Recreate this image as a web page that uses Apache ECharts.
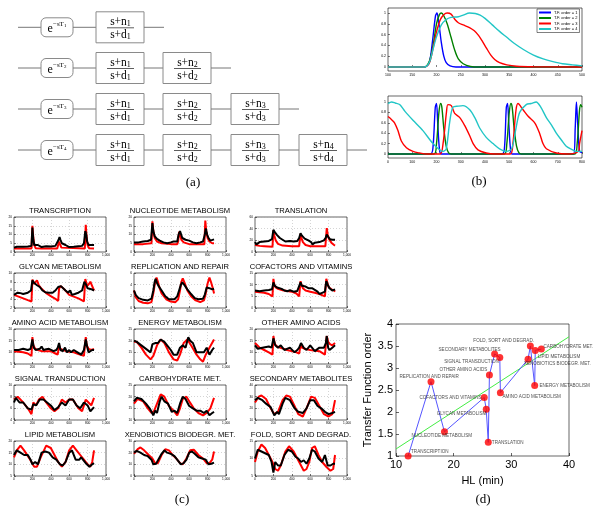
<!DOCTYPE html>
<html><head><meta charset="utf-8">
<script src="https://cdn.jsdelivr.net/npm/echarts@6/dist/echarts.min.js"></script>
<style>html,body{margin:0;padding:0;background:#fff}#c{width:600px;height:512px}</style>
</head><body><div id="c"></div>
<script>
// ---------- Panel (b) data ----------
const tfNames = ['T.F. order = 1','T.F. order = 2','T.F. order = 3','T.F. order = 4'];
const tfColors = ['#0000ff','#008000','#ff0000','#22c6c6'];
const bTop1 = [[100,0],[175,0],[185,0.08],[192,0.5],[198,0.95],[201,1],[205,0.8],[210,0.45],[215,0.2],[220,0.08],[228,0.02],[240,0],[500,0]];
const bTop2 = [[100,0],[175,0],[185,0.1],[193,0.4],[200,0.8],[206,0.97],[210,1],[215,0.95],[222,0.8],[230,0.55],[238,0.3],[245,0.15],[255,0.06],[270,0.01],[290,0],[500,0]];
const bTop3 = [[100,0],[175,0],[185,0.07],[193,0.35],[200,0.65],[208,0.88],[215,0.97],[222,1],[230,0.98],[238,0.88],[245,0.82],[255,0.78],[268,0.73],[278,0.67],[287,0.58],[295,0.47],[303,0.35],[312,0.22],[320,0.14],[330,0.08],[345,0.04],[365,0.015],[400,0.005],[500,0]];
const bTop4 = [[100,0],[175,0],[185,0.08],[192,0.3],[200,0.56],[210,0.78],[220,0.88],[230,0.92],[245,0.93],[255,0.96],[268,1.0],[280,0.99],[290,0.96],[300,0.9],[315,0.78],[330,0.66],[345,0.55],[360,0.44],[380,0.32],[400,0.22],[420,0.15],[440,0.1],[460,0.06],[480,0.04],[500,0.02]];
const bBot1 = [[0,0],[175,0],[185,0.1],[195,0.9],[200,0.97],[205,0.6],[212,0.1],[220,0],[470,0],[480,0.1],[488,0.9],[493,0.97],[498,0.6],[505,0.1],[512,0],[765,0],[772,0.5],[777,1.0],[782,0.6],[790,0.05],[800,0.03]];
const bBot2 = [[0,0],[190,0],[200,0.2],[210,0.8],[217,0.97],[222,0.9],[230,0.5],[240,0.15],[250,0.02],[260,0],[480,0],[490,0.2],[500,0.8],[507,0.97],[512,0.9],[520,0.5],[530,0.15],[540,0.02],[550,0],[770,0],[780,0.2],[790,0.85],[795,0.95],[800,0.9]];
const bBot3 = [[0,0.72],[15,0.66],[27,0.6],[41,0.45],[55,0.25],[76,0.12],[103,0.05],[130,0.02],[160,0],[215,0],[227,0.2],[241,0.8],[247,0.95],[261,0.93],[275,0.78],[296,0.7],[316,0.55],[337,0.35],[351,0.2],[371,0.08],[405,0.02],[440,0],[505,0],[515,0.2],[528,0.85],[536,0.97],[557,0.85],[577,0.73],[605,0.6],[625,0.4],[639,0.2],[653,0.1],[694,0.02],[740,0],[785,0.05],[790,0.2],[800,0.45]];
const bBot4 = [[0,0.97],[15,1.0],[30,0.98],[48,0.95],[70,0.82],[103,0.65],[144,0.45],[186,0.2],[227,0.05],[240,0.1],[254,0.6],[268,0.9],[290,0.92],[309,0.93],[337,0.85],[360,0.68],[378,0.5],[405,0.32],[433,0.2],[460,0.1],[488,0.05],[510,0.1],[528,0.5],[543,0.8],[570,0.95],[590,0.97],[611,1.0],[630,0.9],[653,0.7],[675,0.55],[694,0.4],[715,0.27],[735,0.15],[757,0.09],[777,0.05],[800,0.05]];

// ---------- Panel (c) data ----------
const cTitles = ['TRANSCRIPTION','NUCLEOTIDE METABOLISM','TRANSLATION',
  'GLYCAN METABOLISM','REPLICATION AND REPAIR','COFACTORS AND VITAMINS',
  'AMINO ACID METABOLISM','ENERGY METABOLISM','OTHER AMINO ACIDS',
  'SIGNAL TRANSDUCTION','CARBOHYDRATE MET.','SECONDARY METABOLITES',
  'LIPID METABOLISM','XENOBIOTICS BIODEGR. MET.','FOLD, SORT AND DEGRAD.'];
const cYMin  = [0,0,0, 2,0,0, 5,10,5, 4,10,10, 5,0,5];
const cYMax  = [20,20,60, 10,6,15, 20,25,20, 10,25,40, 20,30,15];
const cYStep = [5,5,20, 2,2,5, 5,5,5, 2,5,10, 5,10,5];
const cXTicks = [0,1000,200];

const transcriptionRed = [[0,2],[100,2],[190,2],[200,15],[210,8],[220,4],[235,2.2],[300,2],[470,2],[480,2.5],[490,6],[500,4.5],[515,2.5],[530,2],[770,2],[780,15.5],[790,8],[800,4],[815,2.2],[870,2]];
const transcriptionBlack = [[0,2.5],[30,3],[100,3],[150,3.2],[190,3.5],[200,14],[210,7],[220,4],[240,4.5],[260,4],[280,3],[300,2.8],[350,3.3],[400,3.2],[450,3.5],[470,4],[485,7],[495,8.5],[505,7],[520,5],[540,5],[560,4],[600,2.8],[650,3],[700,3.3],[740,3.5],[760,5],[775,12],[785,10],[795,6],[810,4],[830,3.5],[850,4],[870,4]];
const nucleotideRed = [[0,4.5],[100,4.5],[190,5],[200,17.5],[210,12],[225,8],[250,6],[300,5],[400,4.5],[470,4.5],[480,6],[490,11.5],[500,10],[515,7],[540,5.5],[600,4.5],[700,4.5],[765,4.5],[775,18],[785,12],[800,8],[820,6],[850,5],[870,5]];
const nucleotideBlack = [[0,5.5],[50,5.5],[100,6],[150,6.3],[185,7],[200,16.5],[210,12],[225,9],[250,7.5],[280,6.5],[320,5.5],[360,5],[400,5.5],[430,6],[450,5],[470,6],[485,10],[500,12],[510,11],[525,8],[560,7],[600,6.5],[640,5.5],[680,5],[720,5.5],[750,6],[770,10],[780,13.5],[795,10],[810,8],[830,6.5],[850,7],[870,7.2]];
const translationRed = [[0,12],[50,10.5],[100,10],[190,9],[200,37],[210,28],[225,20],[250,14],[300,11],[400,10],[480,10],[495,31],[505,24],[520,17],[550,12],[600,10],[700,10],[765,10],[780,41],[790,30],[805,22],[830,16],[860,12],[870,11]];
const translationBlack = [[0,17],[15,13],[30,13],[50,17],[100,18],[150,19],[185,22],[200,38],[215,34],[240,29],[270,24],[300,21],[330,18],[380,19],[420,18],[460,19],[480,24],[495,32],[510,28],[540,23],[580,20],[610,17],[625,13],[650,16],[700,17],[750,20],[770,25],[780,30],[795,26],[815,22],[840,21],[870,21]];
const glycanRed = [[0,5],[50,4.6],[100,4.2],[150,3.8],[190,3.5],[200,8.5],[215,7.5],[235,7.6],[250,8.3],[270,7.2],[300,6.4],[350,5.4],[400,4.7],[450,4.1],[480,3.6],[490,6.5],[510,7],[525,7.3],[550,6.2],[600,5],[650,4.6],[700,4.2],[760,3.5],[775,8.6],[795,7],[815,7.5],[830,8],[850,7],[870,6]];
const glycanBlack = [[0,5],[20,4.6],[40,5.5],[70,5.4],[100,5.2],[150,5.5],[185,6],[200,8.3],[220,7.7],[250,7.2],[280,6.8],[310,6],[340,5.6],[380,5.5],[420,5.5],[450,6],[480,6.8],[510,7],[530,7],[560,6],[590,5.5],[610,6],[630,5],[660,5.2],[700,5.5],[740,6],[765,8],[780,7.5],[800,6.5],[820,6.7],[840,6.3],[860,6.5],[870,6]];
const replicationRed = [[0,3],[20,1.8],[50,1.2],[100,0.9],[150,0.8],[190,1],[210,2.5],[230,4.5],[245,5.2],[260,4.5],[280,3.3],[300,2.5],[350,1.5],[400,1.1],[450,1],[480,1.5],[500,3],[515,4.5],[530,5.1],[550,4.3],[580,3],[620,2],[670,1.3],[720,1],[760,1.3],[780,2.5],[800,4.2],[820,5.2],[840,4.3],[860,3.2],[870,2.5]];
const replicationBlack = [[0,3],[20,2.2],[50,1.7],[100,1.4],[150,1.3],[190,1.6],[210,3],[225,4.5],[235,5],[250,4.3],[270,3.7],[300,3],[340,2],[380,1.5],[440,1.5],[470,2],[490,3],[510,4],[525,4.4],[545,4],[580,3.2],[620,2.4],[660,1.7],[700,1.5],[750,1.6],[770,2.3],[790,3.5],[800,3.8],[820,3.4],[835,3.6],[850,3.2],[870,3.3]];
const cofactorsRed = [[0,7],[100,6.5],[150,6],[190,5],[200,12.5],[210,10],[225,8.8],[250,8.2],[300,7.6],[350,7.3],[400,7],[450,6.2],[480,5],[495,11.5],[505,10],[520,8.5],[550,7.5],[600,7],[650,6.5],[700,6],[760,5],[775,12.5],[785,11],[800,9],[830,8],[860,7.5],[870,7]];
const cofactorsBlack = [[0,7.5],[50,7.2],[100,7.5],[150,7.7],[185,8],[200,11],[215,9.5],[240,8.8],[260,8.3],[290,8.2],[320,7.5],[350,7.2],[380,7.6],[420,7],[460,7.3],[480,8],[495,11],[510,9.5],[530,9],[550,9.2],[580,8.5],[620,8.5],[650,7.8],[680,7],[700,6],[730,6.5],[760,7],[775,11.5],[790,10],[810,8.5],[840,7.5],[870,8]];
const aminoRed = [[0,10.5],[100,10],[150,9.5],[190,8.5],[200,16.5],[210,13],[230,11.5],[260,11],[300,10.5],[400,10.5],[450,9.5],[475,9],[490,13],[505,11.5],[530,11],[570,10.5],[650,10],[700,9.3],[760,8.5],[780,16.5],[790,13],[810,11.5],[840,11],[870,11.5]];
const aminoBlack = [[0,11],[50,11],[100,11.5],[150,11],[180,11.5],[200,15.5],[215,12],[235,11],[255,10.5],[280,11.5],[300,12.5],[320,11],[350,11.3],[380,11.5],[430,10.5],[460,11],[475,12],[490,14],[505,11],[530,10.5],[555,12],[575,10],[600,11],[620,10],[650,11],[690,10],[730,9],[760,11],[780,15.5],[795,12.5],[810,10],[830,10.5],[850,11],[870,11]];
const energyRed = [[0,19.5],[30,19.5],[80,17],[130,14],[180,12],[210,13.5],[250,18],[290,20.5],[330,19],[380,15],[430,12],[470,11.5],[500,14],[540,19],[580,20.5],[620,18],[680,14],[720,12],[750,11],[780,14],[820,17],[870,20.5]];
const energyBlack = [[0,20],[30,19.5],[80,18],[130,16.5],[180,15],[200,18.5],[215,18],[235,19],[260,19],[290,20.5],[330,19.5],[360,18],[400,16],[430,14],[470,14],[500,17],[530,18],[560,17],[590,21.5],[610,20],[640,19],[680,15],[720,15],[760,15],[790,17],[820,14],[850,16],[870,17]];
const otherAminoRed = [[0,14],[50,12],[100,11],[150,10],[190,9],[200,17],[215,13.5],[240,12.5],[270,12],[350,11],[450,10],[480,9.5],[495,13],[510,12],[540,11.5],[600,11],[700,10.5],[760,9],[780,17],[795,14.5],[815,13.5],[840,13],[870,14]];
const otherAminoBlack = [[0,13],[30,11.5],[80,12],[150,12.5],[180,12],[200,16],[220,13],[250,12],[280,13],[320,11],[380,12],[430,10],[460,11],[480,12],[500,14],[530,12],[560,11],[600,13],[650,10.5],[700,12],[750,12],[770,14],[780,17],[795,12],[810,11],[840,12],[870,13]];
const signalRed = [[0,7.5],[40,8],[100,7],[150,6],[190,5],[210,7],[240,6.5],[270,7.5],[310,8],[350,7],[400,6],[440,5.5],[480,6],[520,7.5],[560,7],[600,7.5],[640,7.5],[700,6],[740,5.5],[780,7.5],[810,7],[840,6.5],[870,7.8]];
const signalBlack = [[0,7],[20,7.8],[60,7],[100,7],[150,6],[190,5.8],[210,6.7],[240,6.5],[280,7.5],[320,7.5],[360,7],[400,6.5],[440,5.7],[480,6.2],[520,7],[560,6.5],[600,7.5],[640,7.5],[680,6.5],[720,6],[760,7],[800,6.5],[830,5.5],[870,6.2]];
const carboRed = [[0,17],[40,19],[100,18],[150,15],[190,13],[220,14],[260,18],[290,21],[330,20],[380,16],[430,14],[470,12],[500,15],[530,19],[570,20],[600,18],[650,15],[700,13],[750,12],[790,13],[830,15],[870,19.5]];
const carboBlack = [[0,18],[30,19.5],[80,19],[130,17],[170,15],[210,12],[230,14],[250,13],[280,18],[300,20],[330,18],[370,17],[410,13.5],[440,14],[470,13],[500,17],[530,20],[560,19],[600,16],[640,15],[680,14],[720,14],[760,13],[790,14],[820,12],[850,13],[870,13.5]];
const secondaryRed = [[0,25],[40,30],[70,31],[120,28],[170,20],[210,15],[250,17],[300,27],[340,31],[380,30],[430,22],[470,15],[520,13],[560,20],[610,30],[650,29],[700,22],[750,15],[800,13],[840,15],[870,27]];
const secondaryBlack = [[0,27],[30,29],[80,27],[120,24],[170,21],[210,14],[240,17],[260,15],[300,24],[330,29],[380,27],[430,20],[470,17],[520,16],[560,20],[600,27],[640,27],[680,22],[720,20],[760,17],[800,15],[840,16],[870,17]];
const lipidRed = [[0,13],[30,16],[70,18],[110,16],[160,13],[190,11],[220,9],[250,9],[290,13],[350,18],[400,17],[440,14],[480,11],[520,9],[560,11],[600,16],[640,18],[680,16],[720,14],[760,12],[800,10],[830,9],[850,11],[870,16]];
const lipidBlack = [[0,14],[30,16],[70,15],[110,14],[150,14],[180,12],[200,10],[230,11],[260,10],[300,15],[340,15.5],[380,15],[420,13],[460,12],[500,10],[530,9.5],[560,11],[600,15],[630,16],[670,12],[710,12],[730,13],[780,10.5],[820,9],[850,10],[870,10.5]];
const xenoRed = [[0,19],[40,23],[70,24.5],[110,22],[160,18],[200,15],[230,11],[260,11],[300,18],[340,23],[380,22],[420,18],[460,15],[500,11],[530,10],[570,15],[610,22],[650,22.5],[700,18],[750,15],[790,11],[820,11],[850,14],[870,21]];
const xenoBlack = [[0,20],[30,21.5],[70,20],[110,18],[150,17],[190,14],[210,10],[240,10.5],[260,10],[300,19],[330,22],[360,20],[400,19],[440,17],[480,13],[510,10],[540,11],[570,14],[600,20],[630,21],[660,19],[700,16],[740,15],[780,14],[810,10],[840,10.5],[870,11.5]];
const foldRed = [[0,9],[30,12],[70,14],[110,13],[150,11],[190,9],[220,7],[250,6.5],[280,8],[330,12],[370,13.5],[420,12],[460,10],[500,8],[530,6.5],[560,7],[590,9],[620,13],[650,13.5],[690,11],[730,9],[780,7.5],[820,6.5],[850,7],[870,11]];
const foldBlack = [[0,10],[30,12.5],[70,12],[110,11.5],[150,11],[180,9],[200,6],[220,9],[250,8],[280,8],[320,11],[360,12.5],[400,12],[440,10.5],[470,10],[500,9],[530,9.5],[560,8.5],[590,10],[620,12.5],[650,12],[690,10],[730,9],[760,11],[790,8],[820,8],[850,8.5],[870,8.5]];
const cRed = [transcriptionRed,nucleotideRed,translationRed,glycanRed,replicationRed,cofactorsRed,aminoRed,energyRed,otherAminoRed,signalRed,carboRed,secondaryRed,lipidRed,xenoRed,foldRed];
const cBlack = [transcriptionBlack,nucleotideBlack,translationBlack,glycanBlack,replicationBlack,cofactorsBlack,aminoBlack,energyBlack,otherAminoBlack,signalBlack,carboBlack,secondaryBlack,lipidBlack,xenoBlack,foldBlack];

// ---------- Panel (d) data ----------
const dNames = ['TRANSCRIPTION','REPLICATION AND REPAIR','NUCLEOTIDE METABOLISM','COFACTORS AND VITAMINS','GLYCAN METABOLISM','TRANSLATION','OTHER AMINO ACIDS','SECONDARY METABOLITES','SIGNAL TRANSDUCTION','AMINO ACID METABOLISM','XENOBIOTICS BIODEGR. MET.','FOLD, SORT AND DEGRAD.','ENERGY METABOLISM','LIPID METABOLISM','CARBOHYDRATE MET.'];
const dHL    = [12.1,16.07,18.4,25.3,25.65,26.0,26.2,27.1,28.0,28.1,32.9,33.3,34.05,34.15,35.2];
const dOrder = [1.0,2.69,1.55,2.33,2.06,1.31,2.84,3.32,3.24,2.44,3.2,3.5,2.6,3.4,3.43];
const dFit = [[10,1.16],[40,3.71]];
const dLabelOffsets = [[21.7,-4.3],[-1.8,-5],[-2.7,4],[-33.7,0],[-24.7,4],[19.5,0],[-26,-5],[-25,-4],[-28.3,4.3],[31.3,4],[29.3,4.7],[-26.7,-5],[30,0],[23.7,6],[27,-2.7]];

// ---------- build ----------
const SANS = 'Liberation Sans', SERIF = 'Liberation Serif';
const grids = [], xAxes = [], yAxes = [], series = [], graphics = [];
function axis(gi, min, max, interval, fs, extra) {
  return Object.assign({
    gridIndex: gi, type: 'value', min: min, max: max, interval: interval,
    axisLine: {show: false},
    axisTick: {show: true, inside: true, length: 2, lineStyle: {color: '#000', width: 0.5}},
    axisLabel: {fontSize: fs, color: '#000', margin: 2, fontFamily: SANS},
    splitLine: {show: false}
  }, extra || {});
}
function gridBox(l, t, w, h) {
  grids.push({left: l, top: t, width: w, height: h, show: true, borderColor: '#000', borderWidth: 0.6, backgroundColor: '#fff'});
  return grids.length - 1;
}
const bTicks = [0,0.2,0.4,0.6,0.8,1];
// (b) top
let g = gridBox(388, 8, 194, 63);
xAxes.push(axis(g, 100, 500, 50, 3.5));
yAxes.push(axis(g, -0.074, 1.093, null, 3.5, {axisLabel: {fontSize: 3.5, color: '#000', margin: 2, fontFamily: SANS, customValues: bTicks}, axisTick: {show: true, inside: true, length: 2, lineStyle: {color: '#000', width: 0.5}, customValues: bTicks}}));
[bTop1,bTop2,bTop3,bTop4].forEach((d,i) => series.push({type:'line', name: tfNames[i], xAxisIndex: g, yAxisIndex: g, data: d, showSymbol:false, smooth: 0.3, lineStyle:{color: tfColors[i], width: 1.4}, itemStyle:{color: tfColors[i]}, z: 3+i}));
// (b) bottom
g = gridBox(388, 96, 194, 62);
xAxes.push(axis(g, 0, 800, 100, 3.5));
yAxes.push(axis(g, -0.077, 1.115, null, 3.5, {axisLabel: {fontSize: 3.5, color: '#000', margin: 2, fontFamily: SANS, customValues: bTicks}, axisTick: {show: true, inside: true, length: 2, lineStyle: {color: '#000', width: 0.5}, customValues: bTicks}}));
[bBot1,bBot2,bBot3,bBot4].forEach((d,i) => series.push({type:'line', name: tfNames[i], xAxisIndex: g, yAxisIndex: g, data: d, showSymbol:false, smooth: 0.3, lineStyle:{color: tfColors[i], width: 1.4}, itemStyle:{color: tfColors[i]}, z: 3+i}));

// (c)
const colLeft = [14, 134, 255], rowTop = [217, 273, 329, 385, 441];
for (let k = 0; k < 15; k++) {
  const r = Math.floor(k / 3), c = k % 3;
  g = gridBox(colLeft[c], rowTop[r], 92, 35);
  const dotted = {show: true, lineStyle: {type: [1, 2], color: '#aaa', width: 0.5}};
  xAxes.push(axis(g, cXTicks[0], cXTicks[1], cXTicks[2], 3.2, {splitLine: dotted}));
  yAxes.push(axis(g, cYMin[k], cYMax[k], cYStep[k], 3.2, {splitLine: dotted}));
  series.push({type:'line', xAxisIndex: g, yAxisIndex: g, data: cRed[k], showSymbol:false, lineStyle:{color:'#ff0000', width: 2}, z: 3});
  series.push({type:'line', xAxisIndex: g, yAxisIndex: g, data: cBlack[k], showSymbol:false, lineStyle:{color:'#000', width: 2}, z: 4});
  graphics.push({type:'text', x: colLeft[c] + 46, y: rowTop[r] - 6,
    style: {text: cTitles[k], fontSize: 7.6, fontFamily: SANS, fill: '#000', align: 'center', verticalAlign: 'middle'}});
}

// (d)
g = gridBox(396, 324, 173, 132);
xAxes.push(axis(g, 10, 40, 10, 11, {axisLabel: {fontSize: 11, color: '#000', margin: 3, fontFamily: SANS}, name: 'HL (min)', nameLocation: 'middle', nameGap: 19, nameTextStyle: {fontSize: 11, fontFamily: SANS, color: '#000'}, axisTick: {show: true, inside: true, length: 3, lineStyle: {color: '#000', width: 0.6}}}));
yAxes.push(axis(g, 1, 4, 0.5, 11, {axisLabel: {fontSize: 11, color: '#000', margin: 3, fontFamily: SANS}, name: 'Transfer Function order', nameLocation: 'middle', nameGap: 22, nameRotate: 90, nameTextStyle: {fontSize: 11, fontFamily: SANS, color: '#000'}, axisTick: {show: true, inside: true, length: 3, lineStyle: {color: '#000', width: 0.6}}}));
series.push({type:'line', xAxisIndex: g, yAxisIndex: g, data: dFit, showSymbol:false, lineStyle:{color:'#44ee44', width: 1}, z: 2});
series.push({type:'line', xAxisIndex: g, yAxisIndex: g, data: dHL.map((h,i) => [h, dOrder[i]]), showSymbol:false, lineStyle:{color:'#5555ff', width: 1}, z: 3});
series.push({type:'scatter', xAxisIndex: g, yAxisIndex: g, symbolSize: 7, itemStyle:{color:'#ff0000'}, z: 5,
  label: {show: true, position: 'inside', fontSize: 4.6, fontFamily: SANS, color: '#222', formatter: p => p.name},
  data: dHL.map((h,i) => ({name: dNames[i], value: [h, dOrder[i]], label: {offset: dLabelOffsets[i]}}))});

// (a) block diagram
const rowY = [27.3, 68, 109, 150];
const boxX = [96, 163, 231, 299];
const lineCol = '#777', boxCol = '#8a8a8a';
rowY.forEach((cy, r) => {
  const n = r + 1;
  graphics.push({type:'line', shape:{x1:18, y1:cy, x2:41, y2:cy}, style:{stroke: lineCol, lineWidth: 1}});
  graphics.push({type:'rect', shape:{x:41, y:cy-9.5, width:32, height:19, r:5}, style:{stroke: boxCol, fill:'#fff', lineWidth: 1}});
  graphics.push({type:'text', x: 57, y: cy, style:{
    text: '{e|e}{s|\u2212sT}{t|' + n + '}', align:'center', verticalAlign:'middle', fill:'#000',
    rich: {e:{fontSize: 12, fontFamily: SERIF, padding:[3,0,0,0]}, s:{fontSize: 7, fontFamily: SERIF, padding:[0,0,6,0]}, t:{fontSize: 5, fontFamily: SERIF, padding:[0,0,3,0]}}}});
  graphics.push({type:'line', shape:{x1:73, y1:cy, x2:96, y2:cy}, style:{stroke: lineCol, lineWidth: 1}});
  for (let b = 0; b < n; b++) {
    const bx = boxX[b];
    graphics.push({type:'rect', shape:{x:bx, y:cy-15.5, width:48, height:31}, style:{stroke: boxCol, fill:'#fff', lineWidth: 1}});
    graphics.push({type:'line', shape:{x1:bx+11, y1:cy+0.5, x2:bx+38, y2:cy+0.5}, style:{stroke:'#333', lineWidth: 0.8}});
    graphics.push({type:'text', x: bx+24.5, y: cy-5.5, style:{text:'{a|s+n}{b|' + (b+1) + '}', align:'center', verticalAlign:'middle', fill:'#000',
      rich:{a:{fontSize: 11.5, fontFamily: SERIF}, b:{fontSize: 8, fontFamily: SERIF, padding:[4,0,0,0]}}}});
    graphics.push({type:'text', x: bx+24.5, y: cy+8, style:{text:'{a|s+d}{b|' + (b+1) + '}', align:'center', verticalAlign:'middle', fill:'#000',
      rich:{a:{fontSize: 11.5, fontFamily: SERIF}, b:{fontSize: 8, fontFamily: SERIF, padding:[4,0,0,0]}}}});
    const nx = (b < n - 1) ? boxX[b+1] : bx + 48 + 20;
    graphics.push({type:'line', shape:{x1:bx+48, y1:cy, x2:nx, y2:cy}, style:{stroke: lineCol, lineWidth: 1}});
  }
});
// panel letters
[['(a)',193,183],['(b)',479,182],['(c)',182,500],['(d)',483,500]].forEach(p => {
  graphics.push({type:'text', x: p[1], y: p[2], style:{text: p[0], fontSize: 13, fontFamily: SERIF, fill:'#000', align:'center', verticalAlign:'middle'}});
});

const chart = echarts.init(document.getElementById('c'), null, {renderer: 'canvas'});
chart.setOption({
  animation: false,
  backgroundColor: '#fff',
  grid: grids, xAxis: xAxes, yAxis: yAxes, series: series,
  legend: {data: tfNames, left: 537, top: 9, orient: 'vertical', itemWidth: 12, itemHeight: 2, itemGap: 1.5,
    padding: [1.5, 2], borderColor: '#000', borderWidth: 0.5, backgroundColor: '#fff',
    textStyle: {fontSize: 4, fontFamily: SANS, color: '#000', padding: [0,0,0,-2]}, icon: 'rect'},
  graphic: graphics
});
</script></body></html>
